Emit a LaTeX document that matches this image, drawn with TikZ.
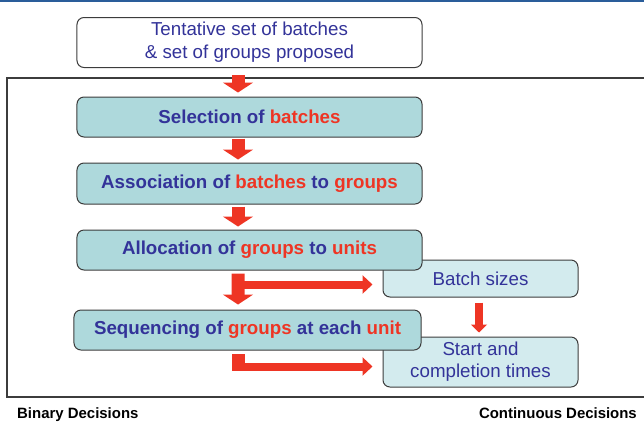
\documentclass[tikz,border=0pt]{standalone}
\usepackage{fontspec}
\setmainfont{Liberation Sans}
\usetikzlibrary{arrows.meta}
\definecolor{navy}{HTML}{333399}
\definecolor{hot}{HTML}{EE3524}
\definecolor{teal1}{HTML}{AED9DC}
\definecolor{teal2}{HTML}{D3EBEE}
\definecolor{edge}{HTML}{3C3C3C}
\definecolor{topline}{HTML}{2A5D9A}
\tikzset{
  box/.style={draw=edge, line width=1bp, rounded corners=7bp, inner sep=0pt, align=center},
  mainbox/.style={box, fill=teal1, font=\fontsize{18.8}{23}\selectfont\bfseries, text=navy},
  subbox/.style={box, fill=teal2, font=\fontsize{18.8}{22}\selectfont, text=navy},
  bigarrow/.style={draw=hot, line width=13bp, -{Triangle[width=30bp,length=10bp]}},
  sidearrow/.style={draw=hot, line width=8bp, -{Triangle[width=18bp,length=10bp]}},
  thinarrow/.style={draw=hot, line width=8bp, -{Triangle[width=16bp,length=8bp]}},
  bottomlabel/.style={font=\fontsize{15}{18}\selectfont\bfseries, text=black, inner sep=0pt}
}
\newcommand{\hl}[1]{\textcolor{hot}{#1}}
\begin{document}
\begin{tikzpicture}[x=1bp,y=-1bp]
\useasboundingbox (0,0) rectangle (644,421);
% top rule
\fill[topline] (0,0) rectangle (644,2.2);
% frame
\draw[edge, line width=1.2bp] (644,78) -- (7,78) -- (7,397) -- (644,397);
% continuous decision boxes (behind)
\node[subbox, minimum width=195bp, minimum height=37bp] (batch) at (480.5,278.5) {Batch sizes};
\node[subbox, minimum width=195bp, minimum height=50bp] (start) at (480.5,362) {Start and\\completion times};
% top box
\node[box, fill=white, minimum width=345bp, minimum height=50bp, font=\fontsize{18.8}{23}\selectfont, text=navy] (tent) at (249.5,42.5) {Tentative set of batches\\\& set of groups proposed};
% binary decision boxes
\node[mainbox, minimum width=345bp, minimum height=40bp] (sel) at (249.5,117) {Selection of \hl{batches}};
\node[mainbox, minimum width=345bp, minimum height=41bp] (assoc) at (249.5,183.5) {Association of \hl{batches} to \hl{groups}};
\node[mainbox, minimum width=345bp, minimum height=40bp] (alloc) at (249.5,250) {Allocation of \hl{groups} to \hl{units}};
\node[mainbox, minimum width=347bp, minimum height=40bp] (seq) at (247.5,330) {Sequencing of \hl{groups} at each \hl{unit}};
% vertical block arrows
\draw[bigarrow] ([xshift=-11.5bp,yshift=-7bp]tent.south) -- ([xshift=-11.5bp,yshift=4bp]sel.north);
\draw[bigarrow] ([xshift=-11.5bp,yshift=-1bp]sel.south) -- ([xshift=-11.5bp,yshift=3bp]assoc.north);
\draw[bigarrow] ([xshift=-11.5bp,yshift=-2bp]assoc.south) -- ([xshift=-11.5bp,yshift=3bp]alloc.north);
\draw[bigarrow] ([xshift=-11.5bp,yshift=-3bp]alloc.south) -- ([xshift=-9.5bp,yshift=5bp]seq.north);
% side arrows to continuous decisions
\coordinate (b1) at ([xshift=-11.5bp,yshift=-14bp]alloc.south);
\path (b1) -- (b1 -| batch.west) coordinate (b1e);
\draw[sidearrow] (b1) -- ([xshift=-10bp]b1e);
\fill[hot] ([xshift=-15.5bp,yshift=-3bp]seq.south) rectangle ([xshift=-2.5bp,yshift=-20bp]seq.south);
\coordinate (b2) at ([xshift=-9.5bp,yshift=-16bp]seq.south);
\path (b2) -- (b2 -| start.west) coordinate (b2e);
\draw[sidearrow] (b2) -- ([xshift=-10bp]b2e);
\draw[thinarrow] ([xshift=-1.5bp,yshift=-5bp]batch.south) -- ([xshift=-1.5bp,yshift=4bp]start.north);
% bottom labels
\node[bottomlabel, anchor=base west] (bin) at (17,418) {Binary Decisions};
\node[bottomlabel, anchor=base east] (cont) at (637,418) {Continuous Decisions};
\end{tikzpicture}
\end{document}
